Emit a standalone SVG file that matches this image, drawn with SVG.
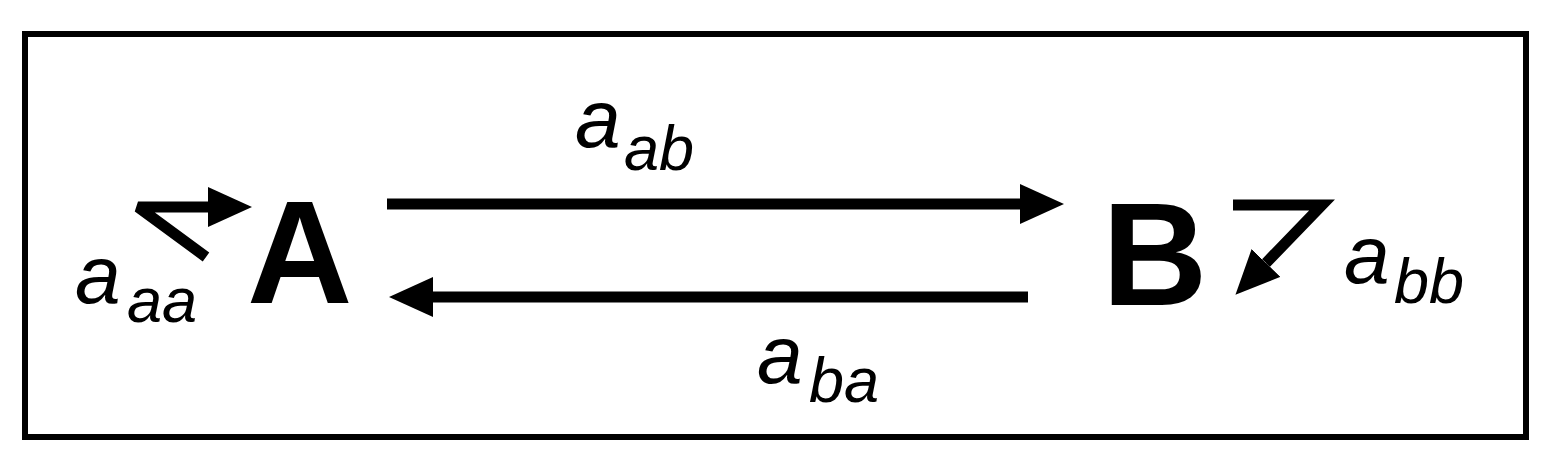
<svg xmlns="http://www.w3.org/2000/svg" width="1561" height="470" viewBox="0 0 1561 470">
  <style>
    .frame { fill: none; stroke: #000; stroke-width: 6; }
    .conn { fill: none; stroke: #000; stroke-width: 11; stroke-linejoin: miter; stroke-miterlimit: 3; }
    .node { font-family: "Liberation Sans", Arial, sans-serif; font-weight: bold; font-size: 146px; fill: #000; }
    .lbl { font-family: "Liberation Sans", Arial, sans-serif; font-style: italic; fill: #000; }
    .main { font-size: 82px; }
    .sub { font-size: 63px; }
  </style>
  <defs>
    <marker id="head" viewBox="0 0 44 40" refX="0" refY="20" markerWidth="44" markerHeight="40" markerUnits="userSpaceOnUse" orient="auto">
      <path d="M0,0 L44,20 L0,40 Z" fill="#000"/>
    </marker>
  </defs>
  <rect width="1561" height="470" fill="#fff"/>
  <rect class="frame" x="25" y="34" width="1501" height="403"/>

  <g id="nodeA">
    <text class="node" x="247" y="303">A</text>
  </g>
  <g id="nodeB">
    <text class="node" x="1102" y="305">B</text>
  </g>

  <g id="connectors">
    <line class="conn" x1="387" y1="204" x2="1020" y2="204" marker-end="url(#head)"/>
    <line class="conn" x1="1028" y1="297" x2="433" y2="297" marker-end="url(#head)"/>
    <polyline class="conn" points="206,257 138,207 208,207" marker-end="url(#head)"/>
    <polyline class="conn" points="1233,205 1322,205 1266,263" marker-end="url(#head)"/>
  </g>

  <g id="labels">
    <text class="lbl main" x="75" y="303">a</text>
    <text class="lbl sub" x="127" y="322">aa</text>
    <text class="lbl main" x="575" y="147">a</text>
    <text class="lbl sub" x="624" y="170">ab</text>
    <text class="lbl main" x="757" y="383">a</text>
    <text class="lbl sub" x="809" y="402">ba</text>
    <text class="lbl main" x="1344" y="283">a</text>
    <text class="lbl sub" x="1394" y="303">bb</text>
  </g>
</svg>
